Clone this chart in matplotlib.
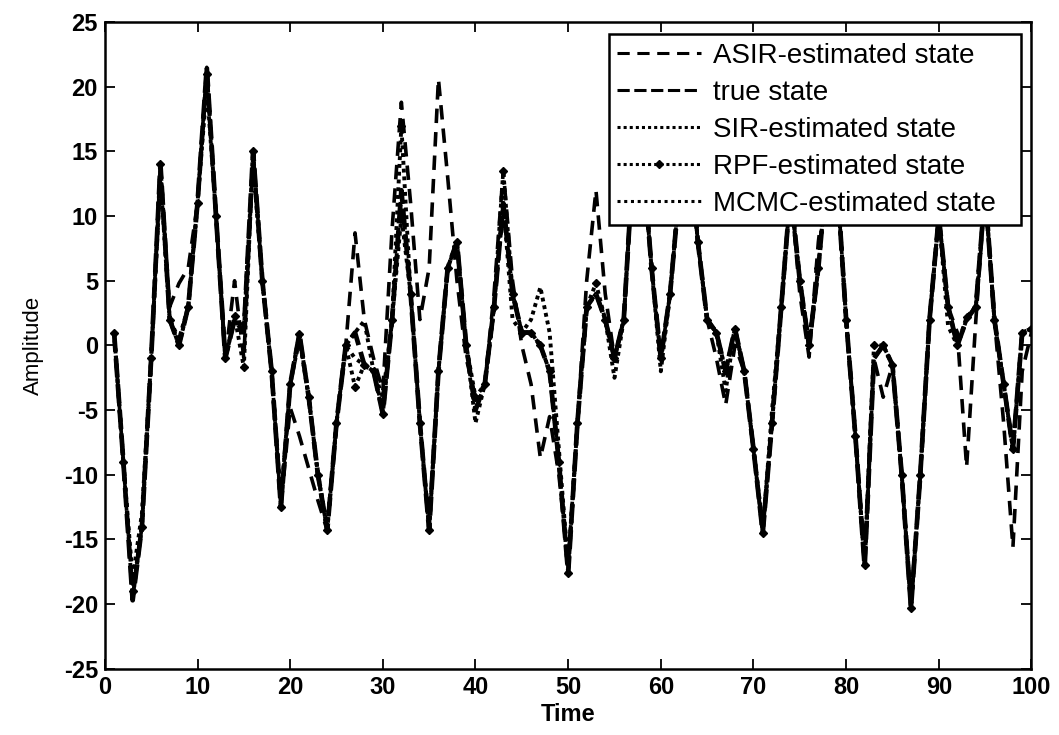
import numpy as np
import matplotlib
matplotlib.use("Agg")
import matplotlib.pyplot as plt

plt.rcParams['font.family'] = ['Liberation Sans', 'DejaVu Sans']
plt.rcParams['axes.unicode_minus'] = False

time = list(range(1, 101))

true_state = [1.0, -9, -19.7, -14, -1, 14, 2, 0, 3, 11,
              21.5, 10, -1, 2, 1, 15, 5, -2, -12.5, -3,
              0.9, -4, -10, -14.3, -6, 0, 1, -1.5, -2, -5.3,
              2, 12, 4, -6, -14.3, -2, 6, 8, 0, -5,
              -3, 3, 11, 4, 1, 1, 0, -2, -9, -17.6,
              -6, 3, 4, 2, -1, 2, 14, 15, 6, -1,
              4, 12, 16, 8, 2, 1, -2, 1.3, -2, -8,
              -14.5, -6, 3, 12, 5, 0, 6, 14, 13, 2,
              -7, -17.1, -1, 0, -1.5, -10, -20.3, -10, 2, 10,
              3, 0, 2, 3, 12, 2, -3, -8, 1, 1.3]

asir_est = [1.0, -9, -19.7, -14, -1, 14, 3, 4.8, 6, 11,
            21.5, 10, -1, 5, -1, 15, 5, -2, -12.5, -4.8,
            -7, -9.5, -12, -14.3, -6, 0, 8.7, 2, -1, -3.5,
            9, 18.8, 11, 2, 6, 20.6, 13, 5, -1, -4,
            -3, 4, 13.5, 5, 0, -3, -8.7, -5.5, -10, -17,
            -6, 5, 12, 4, -1, 2, 14, 15, 6, -1,
            4, 12, 16, 8, 2, -1, -4.6, 0, -2, -8,
            -14.5, -6, 3, 12, 4, -0.9, 8, 14, 13, 2,
            -7, -17.1, -1, -4, -1.5, -10, -20.3, -10, 2, 10,
            3, 1, -9.4, 2, 12, 2, -6, -15.6, -2, 1.0]

sir_est = [1.0, -9, -18, -13, -1, 13, 2, 0.5, 3, 11,
           20, 10, -1, 2, 1.5, 14, 5, -2, -12, -3,
           0.5, -4, -10, -14, -6, 0, 1, 1.9, -2, -5,
           2, 10, 4, -6, -14, -2, 6, 8, 0, -6,
           -3, 3, 11, 4, 1, 2, 4.5, 1, -8, -17,
           -6, 3, 4, 2, -2.5, 2, 14, 15, 6, -2,
           4, 12, 16, 8, 2, 1, -3.5, 1.3, -2, -8,
           -14, -6, 3, 12, 5, 0, 6, 14, 13, 2,
           -7, -17, -1, 0, -1.5, -10, -20, -10, 2, 10,
           3, 0, 2, 3, 12, 2, -3, -8, 1, 1.3]

rpf_est = [1.0, -9, -19, -14, -1, 14, 2, 0, 3, 11,
           21, 10, -1, 2.3, -1.7, 15, 5, -2, -12.5, -3,
           0.9, -4, -10, -14.3, -6, 0, -3.2, -1.5, -2, -5.3,
           2, 17, 4, -6, -14.3, -2, 6, 8, 0, -4,
           -3, 3, 13.5, 4, 1, 1, 0, -2, -9, -17.6,
           -6, 3, 4.8, 2, -1, 2, 14, 15, 6, -1,
           4, 12, 16, 8, 2, 1, -2, 1.3, -2, -8,
           -14.5, -6, 3, 12, 5, 0, 6, 14, 13, 2,
           -7, -17, 0, 0, -1.5, -10, -20.3, -10, 2, 10,
           3, 0, 2.2, 3, 12, 2, -3, -8, 1, 1.3]

mcmc_est = [1.0, -9, -19.5, -14, -1, 14, 2, 0, 3, 11,
            21.5, 10, -1, 2, 1, 15, 5, -2, -12.5, -3,
            0.9, -4, -10, -14.3, -6, 0, -1, -1.5, -2, -4,
            2, 12, 4, -6, -14.3, -2, 6, 8, 0, -5,
            -3, 3, 11, 2, 1, 1, 0, -2, -9, -17.6,
            -6, 3, 4, 2, -1, 2, 14, 15, 6, -1,
            4, 12, 16, 8, 2, 1, -2, 1.3, -2, -8,
            -14.5, -5, 3, 12, 5, 0, 6, 14, 13, 2,
            -7, -17.1, -1, 0, -1.5, -10, -20.3, -10, 2, 10,
            1.5, 0, 2, 3, 12, 2, -3, -8, 1, 1.3]

labels = ['ASIR-estimated state', 'true state', 'SIR-estimated state',
          'RPF-estimated state', 'MCMC-estimated state']

xticks = list(range(0, 101, 10))
yticks = list(range(-25, 26, 5))

fig = plt.figure(figsize=(10.59, 7.35), dpi=100)
ax = fig.add_axes([0.099, 0.090, 0.875, 0.880])

ax.plot(time, asir_est, color='black', lw=2.6, linestyle=(0, (4, 2.5)), label=labels[0])
ax.plot(time, true_state, color='black', lw=3.4, linestyle=(0, (4, 1.5)), label=labels[1])
ax.plot(time, sir_est, color='black', lw=2.8, linestyle=(0, (1, 1)), label=labels[2])
ax.plot(time, rpf_est, color='black', lw=2.8, linestyle=(0, (1, 1)), marker='D',
        markersize=4, label=labels[3])
ax.plot(time, mcmc_est, color='black', lw=2.8, linestyle=(0, (1, 1.2)), label=labels[4])

ax.set_xlim(0, 100)
ax.set_ylim(-25, 25)
ax.set_xticks(xticks)
ax.set_yticks(yticks)
ax.tick_params(direction='in', top=True, right=True, length=7, width=1.3,
               labelsize=17, pad=5)
for lab in ax.get_xticklabels() + ax.get_yticklabels():
    lab.set_fontweight('bold')
for sp in ax.spines.values():
    sp.set_linewidth(1.8)

ax.set_xlabel('Time', fontsize=17, fontweight='bold', labelpad=3)
ax.set_ylabel('Amplitude', fontsize=16, labelpad=14)

leg = ax.legend(loc='upper right', bbox_to_anchor=(0.544, 0.981, 0.445, 0.0),
                mode='expand', borderaxespad=0,
                fontsize=20, handlelength=3.0, handletextpad=0.45, labelspacing=0.4,
                borderpad=0.3, fancybox=False, framealpha=1, edgecolor='black')
leg.get_frame().set_linewidth(1.8)
for h in leg.legend_handles:
    h.set_linewidth(2.2)

fig.savefig('out.png', dpi=100)
